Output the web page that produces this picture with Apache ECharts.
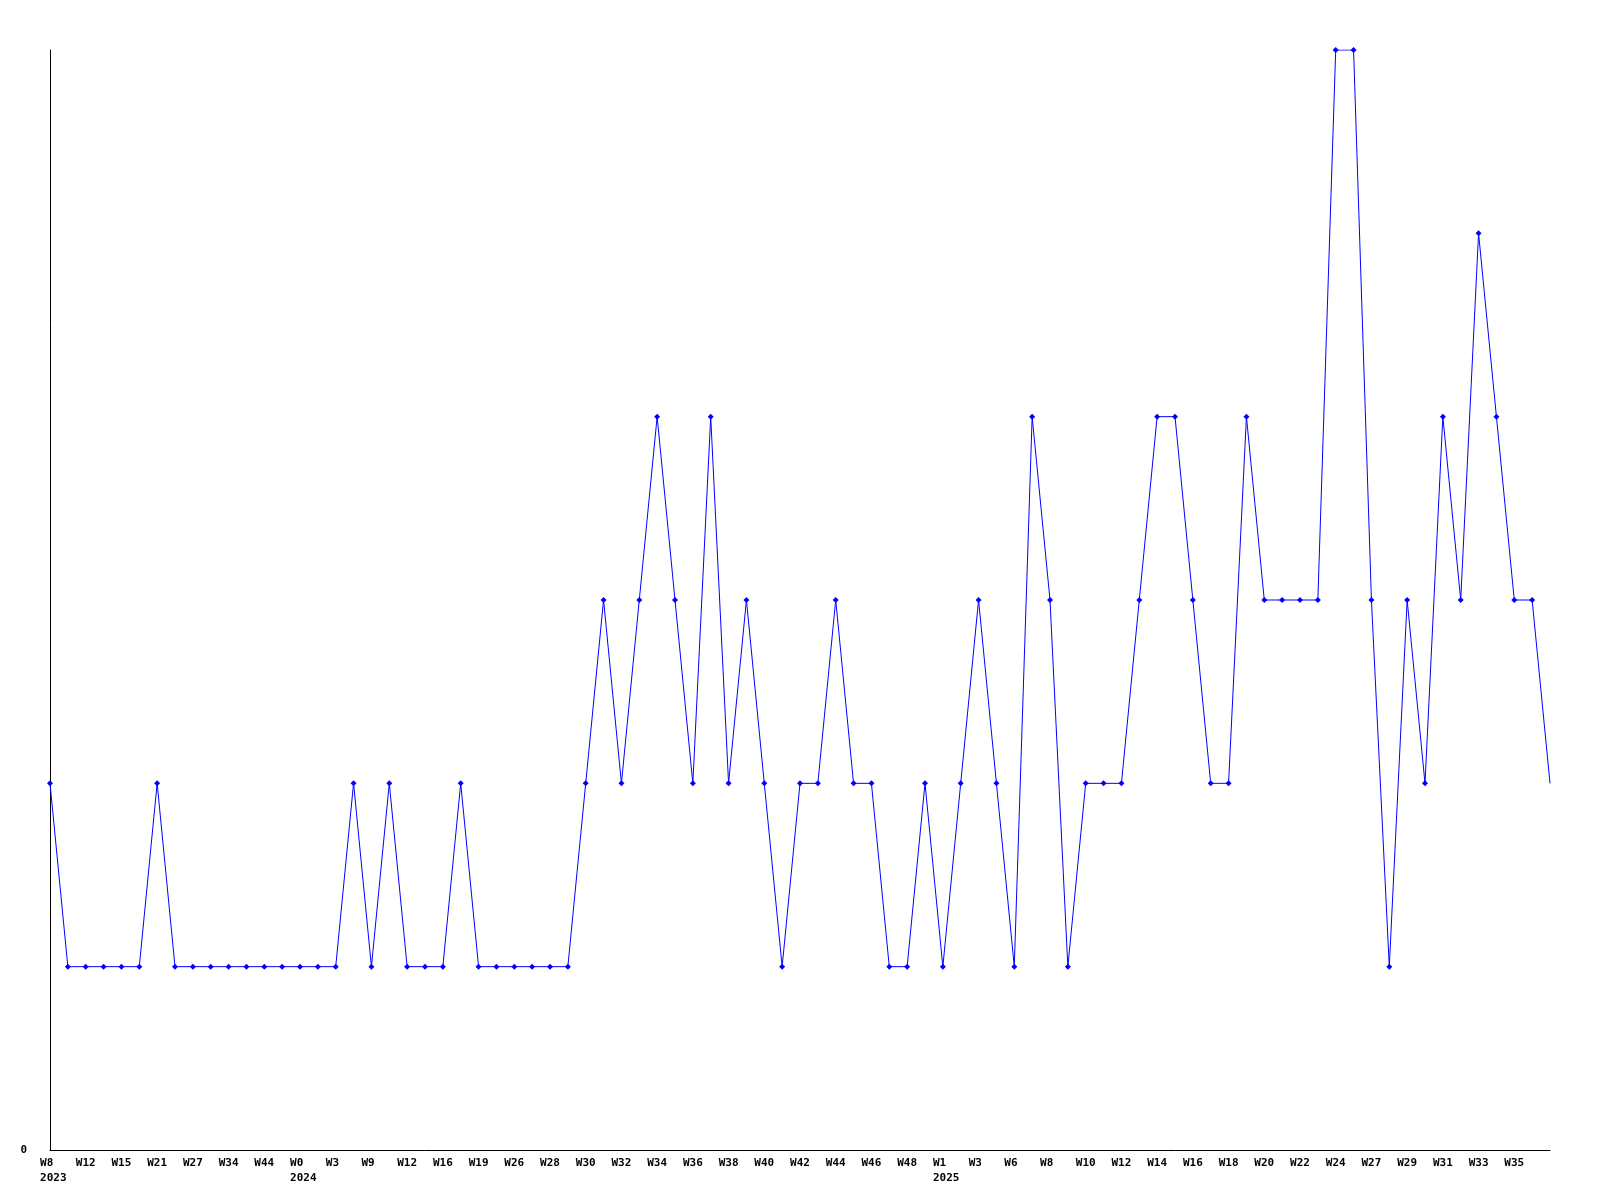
<!DOCTYPE html>
<html>
<head>
<meta charset="utf-8">
<script src="https://cdn.jsdelivr.net/npm/echarts@6/dist/echarts.min.js"></script>
<style>html,body{margin:0;padding:0;background:#fff}#c{width:1600px;height:1200px}</style>
</head>
<body>
<div id="c"></div>
<script>
// Week labels (odd positions are estimates; only every other label is visible)
const weeks = [
  'W8','W10','W12','W13','W15','W18','W21','W24','W27','W30','W34','W39','W44','W50',
  'W0','W1','W3','W6','W9','W10','W12','W14','W16','W17','W19','W22','W26','W27','W28','W29',
  'W30','W31','W32','W33','W34','W35','W36','W37','W38','W39','W40','W41','W42','W43','W44','W45',
  'W46','W47','W48','W49',
  'W1','W2','W3','W5','W6','W7','W8','W9','W10','W11','W12','W13','W14','W15','W16','W17',
  'W18','W19','W20','W21','W22','W23','W24','W26','W27','W28','W29','W30','W31','W32','W33','W34',
  'W35','W36','W37'
];
// Year shown under the first week of each year
const years = {0:'2023', 14:'2024', 50:'2025'};
const values = [
  2,1,1,1,1,1,2,1,1,1,1,1,1,1,1,1,1,2,1,2,1,1,1,2,1,1,1,1,1,1,
  2,3,2,3,4,3,2,4,2,3,2,1,2,2,3,2,2,1,1,2,1,2,3,2,1,4,3,1,2,2,
  2,3,4,4,3,2,2,4,3,3,3,3,6,6,3,1,3,2,4,3,5,4,3,3,2
];
const yTicks = [0, 6];

const chart = echarts.init(document.getElementById('c'), null, {renderer:'canvas'});
const data = values.map((v, i) => i === values.length - 1 ? {value: v, symbol: 'none'} : v);
chart.setOption({
  animation: false,
  backgroundColor: '#ffffff',
  grid: {left: 50, right: 50, top: 50, bottom: 50, containLabel: false},
  xAxis: {
    type: 'category',
    data: weeks,
    boundaryGap: false,
    axisLine: {show: true, lineStyle: {color: '#000', width: 1}},
    axisTick: {show: false},
    splitLine: {show: false},
    axisLabel: {
      interval: 1,
      showMaxLabel: false,
      margin: 6,
      color: '#000',
      fontFamily: 'DejaVu Sans Mono',
      fontWeight: 'bold',
      fontSize: 11,
      lineHeight: 15,
      formatter: function (val, idx) {
        if (idx === weeks.length - 1) return '';
        let w = val.padEnd(3, ' ');
        if (years[idx]) return w + '\n ' + years[idx];
        return w;
      }
    }
  },
  yAxis: {
    type: 'value',
    min: yTicks[0],
    max: yTicks[1],
    interval: 6,
    axisLine: {show: true, lineStyle: {color: '#000', width: 1}},
    axisTick: {show: false},
    splitLine: {show: false},
    axisLabel: {
      showMaxLabel: false,
      margin: 23,
      color: '#000',
      fontFamily: 'DejaVu Sans Mono',
      fontWeight: 'bold',
      fontSize: 11
    }
  },
  series: [{
    type: 'line',
    data: data,
    symbol: 'diamond',
    symbolSize: 6,
    showAllSymbol: true,
    lineStyle: {color: '#0000ff', width: 1},
    itemStyle: {color: '#0000ff'}
  }]
});
</script>
</body>
</html>
